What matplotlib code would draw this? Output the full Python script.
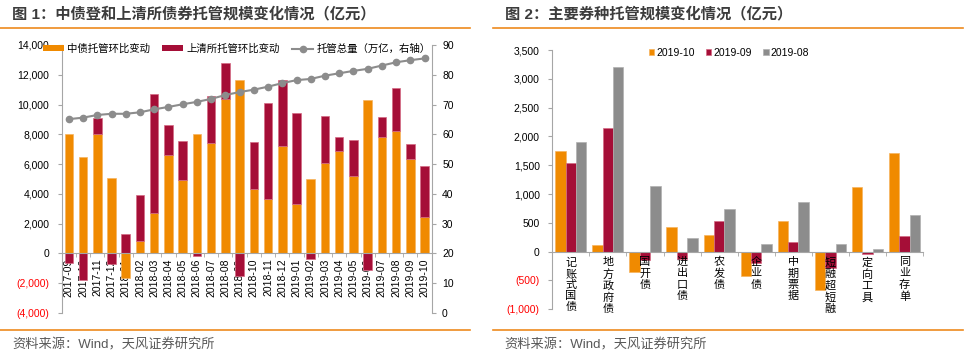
import matplotlib
matplotlib.use("Agg")
import matplotlib.pyplot as plt
from matplotlib.patches import Patch
from matplotlib.lines import Line2D
import numpy as np

plt.rcParams['font.family'] = ['Liberation Sans', 'Noto Sans CJK SC']
plt.rcParams['axes.unicode_minus'] = False

# 图1 数据
months = ['2017-09', '2017-10', '2017-11', '2017-12', '2018-01', '2018-02', '2018-03',
          '2018-04', '2018-05', '2018-06', '2018-07', '2018-08', '2018-09', '2018-10',
          '2018-11', '2018-12', '2019-01', '2019-02', '2019-03', '2019-04', '2019-05',
          '2019-06', '2019-07', '2019-08', '2019-09', '2019-10']
zzd_change = [8050, 6500, 8000, 5050, -1650, 850, 2700, 6600, 4950, 8000, 7450, 10400, 11650,
              4350, 3650, 7200, 3300, 5000, 6100, 6850, 5200, 10300, 7800, 8250, 6350, 2450]
sqs_change = [-650, -1800, 1100, -700, 1300, 3050, 8000, 2050, 2600, -150, 3100, 2400, -1500,
              3150, 6450, 4450, 6100, -400, 3150, 1000, 2450, -1100, 1350, 2850, 1000, 3450]
total = [65.1, 65.6, 66.5, 66.9, 66.9, 67.4, 68.4, 69.2, 70.1, 70.9, 71.9, 73.2, 74.2,
         75.0, 76.0, 77.2, 78.2, 78.6, 79.7, 80.5, 81.3, 82.0, 83.1, 84.2, 84.9, 85.5]

# 图2 数据
bond_types = ['记账式国债', '地方政府债', '国开债', '进出口债', '农发债',
              '企业债', '中期票据', '短融超短融', '定向工具', '同业存单']
chg_1910 = [1750, 120, -350, 425, 290, -430, 535, -660, 1120, 1720]
chg_1909 = [1540, 2140, -140, -125, 540, -200, 170, -275, -40, 280]
chg_1908 = [1910, 3200, 1140, 235, 735, 130, 860, 130, 50, 645]

ORANGE = '#F08A00'
RED = '#A50E37'
GREY = '#8C8C8C'
AXGREY = '#A6A6A6'
LINE_OR = '#EE8A1E'
W, H = 970, 362


def fx(px):
    return px / W


def fy(py):
    return 1 - py / H


def num_label(v):
    if v < 0:
        return '({:,})'.format(-v)
    return '{:,}'.format(v)


fig = plt.figure(figsize=(9.7, 3.62), dpi=100)

# ---------------- 图1 ----------------
ax1 = fig.add_axes([fx(61.7), fy(313), fx(370), 268 / H])
# 先设定坐标轴位置（会重置刻度），再设标签
for s in ['top', 'right']:
    ax1.spines[s].set_visible(False)
ax1.spines['left'].set_color(AXGREY)
ax1.spines['bottom'].set_color(AXGREY)
ax1.spines['bottom'].set_position(('data', 0))

x = np.arange(len(months))
zz = np.array(zzd_change)
sq = np.array(sqs_change)
# 正负分开堆叠
sq_bottom = np.where(np.sign(zz) == np.sign(sq), zz, 0)
ax1.bar(x, zz, width=0.6, color=ORANGE, edgecolor='#F6B45E', linewidth=0.5, zorder=2)
ax1.bar(x, sq, bottom=sq_bottom, width=0.6, color=RED, edgecolor='#D46A84', linewidth=0.5, zorder=2)

ax1.set_xlim(-0.5, len(months) - 0.5)
ax1.set_ylim(-4000, 14000)
yt = list(range(-4000, 14001, 2000))
ax1.set_yticks(yt)
ax1.set_yticklabels([num_label(v) for v in yt])
for v, lbl in zip(yt, ax1.get_yticklabels()):
    lbl.set_color('red' if v < 0 else 'black')
ax1.set_xticks(x)
ax1.set_xticklabels(months)
ax1.set_xticks(np.arange(-0.5, len(months), 1), minor=True)

ax1.tick_params(axis='y', length=3, color=AXGREY, pad=6, labelsize=7.5)
ax1.tick_params(axis='x', which='major', length=0, pad=3.5, labelsize=7.5, labelrotation=90)
ax1.tick_params(axis='x', which='minor', length=3, color=AXGREY)

ax2 = ax1.twinx()
ax2.plot(x, total, color=GREY, lw=1.5, marker='o', markersize=4.5, zorder=3)
ax2.set_ylim(0, 90)
ax2.set_yticks(range(0, 91, 10))
for s in ['top', 'left', 'bottom']:
    ax2.spines[s].set_visible(False)
ax2.spines['right'].set_color(AXGREY)
ax2.tick_params(axis='y', length=3, color=AXGREY, pad=4.5, labelsize=7.5)

h1 = [Patch(facecolor=ORANGE, edgecolor='none'),
      Patch(facecolor=RED, edgecolor='none'),
      Line2D([0], [0], color=GREY, lw=1.5, marker='o', markersize=4.5)]
fig.legend(h1, ['中债托管环比变动', '上清所托管环比变动', '托管总量（万亿，右轴）'],
           loc='center left', bbox_to_anchor=(fx(43), fy(49)), ncol=3, frameon=False,
           fontsize=7.5, handlelength=2.0, handleheight=0.5, handletextpad=0.3,
           columnspacing=1.2, borderaxespad=0, borderpad=0)

# ---------------- 图2 ----------------
ax3 = fig.add_axes([fx(552.3), fy(309.3), fx(923 - 552.3), (309.3 - 50) / H])
for s in ['top', 'right']:
    ax3.spines[s].set_visible(False)
ax3.spines['left'].set_color(AXGREY)
ax3.spines['bottom'].set_color(AXGREY)
ax3.spines['bottom'].set_position(('data', 0))

xc = np.arange(len(bond_types))
bw = 0.28
ax3.bar(xc - bw, chg_1910, width=bw, color=ORANGE, edgecolor='#F6B45E', linewidth=0.5, label='2019-10')
ax3.bar(xc, chg_1909, width=bw, color=RED, edgecolor='#D46A84', linewidth=0.5, label='2019-09')
ax3.bar(xc + bw, chg_1908, width=bw, color=GREY, edgecolor='#B0B0B0', linewidth=0.5, label='2019-08')

ax3.set_xlim(-0.5, len(bond_types) - 0.5)
ax3.set_ylim(-1000, 3500)
yt3 = list(range(-1000, 3501, 500))
ax3.set_yticks(yt3)
ax3.set_yticklabels([num_label(v) for v in yt3])
for v, lbl in zip(yt3, ax3.get_yticklabels()):
    lbl.set_color('red' if v < 0 else 'black')
ax3.set_xticks(xc)
ax3.set_xticklabels(['\n'.join(n) for n in bond_types], va='top', ha='center')
for lbl in ax3.get_xticklabels():
    lbl.set_linespacing(1.15)
ax3.set_xticks(np.arange(-0.5, len(bond_types), 1), minor=True)

ax3.tick_params(axis='y', length=3, color=AXGREY, pad=6, labelsize=7.5)
ax3.tick_params(axis='x', which='major', length=0, pad=4, labelsize=8)
ax3.tick_params(axis='x', which='minor', length=3, color=AXGREY)

fig.legend(*ax3.get_legend_handles_labels(), loc='center left',
           bbox_to_anchor=(fx(649), fy(53)), ncol=3, frameon=False, fontsize=7.5,
           handlelength=0.5, handleheight=0.5, handletextpad=0.2, columnspacing=1.1,
           borderaxespad=0, borderpad=0)

# ---------------- 标题与来源 ----------------
fig.text(fx(12), fy(14), '图 1：中债登和上清所债券托管规模变化情况（亿元）', fontsize=11,
         fontweight='bold', color='#3C3C3C', va='center')
fig.text(fx(505), fy(14), '图 2：主要券种托管规模变化情况（亿元）', fontsize=11,
         fontweight='bold', color='#3C3C3C', va='center')
for x0, x1 in [(0, 470), (493, 963)]:
    fig.add_artist(Line2D([fx(x0), fx(x1)], [fy(28.3)] * 2, color=LINE_OR, lw=1.2))
    fig.add_artist(Line2D([fx(x0), fx(x1)], [fy(330)] * 2, color=LINE_OR, lw=1.2))
fig.text(fx(12), fy(345), '资料来源：Wind，天风证券研究所', fontsize=9.5, color='#595959', va='center')
fig.text(fx(504), fy(345), '资料来源：Wind，天风证券研究所', fontsize=9.5, color='#595959', va='center')

fig.savefig('out.png', dpi=100)
